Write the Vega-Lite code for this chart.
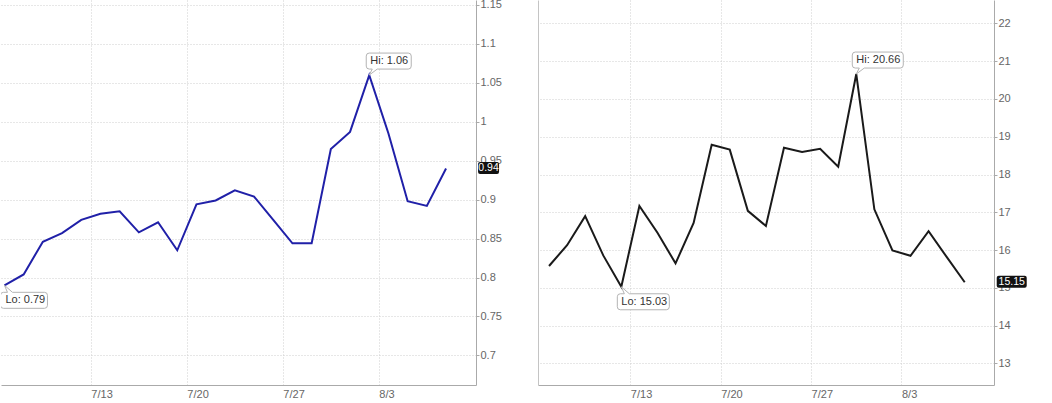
{
  "$schema": "https://vega.github.io/schema/vega-lite/v6.json",
  "description": "Two daily price panels with Hi/Lo callouts and last-value tags",
  "padding": {"left": 0, "top": -2, "right": 0, "bottom": 0},
  "background": "white",
  "spacing": 62,
  "bounds": "flush",
  "datasets": {
    "left": [
      {"day": 1, "date": "07-06", "value": 0.79},
      {"day": 2, "date": "07-07", "value": 0.804},
      {"day": 3, "date": "07-08", "value": 0.846},
      {"day": 4, "date": "07-09", "value": 0.857},
      {"day": 5, "date": "07-10", "value": 0.874},
      {"day": 6, "date": "07-13", "value": 0.882},
      {"day": 7, "date": "07-14", "value": 0.885},
      {"day": 8, "date": "07-15", "value": 0.858},
      {"day": 9, "date": "07-16", "value": 0.871},
      {"day": 10, "date": "07-17", "value": 0.835},
      {"day": 11, "date": "07-20", "value": 0.894},
      {"day": 12, "date": "07-21", "value": 0.899},
      {"day": 13, "date": "07-22", "value": 0.912},
      {"day": 14, "date": "07-23", "value": 0.904},
      {"day": 15, "date": "07-24", "value": 0.874},
      {"day": 16, "date": "07-27", "value": 0.844},
      {"day": 17, "date": "07-28", "value": 0.844},
      {"day": 18, "date": "07-29", "value": 0.965},
      {"day": 19, "date": "07-30", "value": 0.987},
      {"day": 20, "date": "07-31", "value": 1.06},
      {"day": 21, "date": "08-03", "value": 0.985},
      {"day": 22, "date": "08-04", "value": 0.898},
      {"day": 23, "date": "08-05", "value": 0.892},
      {"day": 24, "date": "08-06", "value": 0.94}
    ],
    "right": [
      {"day": 1, "date": "07-06", "value": 15.58},
      {"day": 2, "date": "07-07", "value": 16.13},
      {"day": 3, "date": "07-08", "value": 16.9},
      {"day": 4, "date": "07-09", "value": 15.86},
      {"day": 5, "date": "07-10", "value": 15.03},
      {"day": 6, "date": "07-13", "value": 17.17},
      {"day": 7, "date": "07-14", "value": 16.46},
      {"day": 8, "date": "07-15", "value": 15.65},
      {"day": 9, "date": "07-16", "value": 16.72},
      {"day": 10, "date": "07-17", "value": 18.79},
      {"day": 11, "date": "07-20", "value": 18.66},
      {"day": 12, "date": "07-21", "value": 17.04},
      {"day": 13, "date": "07-22", "value": 16.64},
      {"day": 14, "date": "07-23", "value": 18.71},
      {"day": 15, "date": "07-24", "value": 18.6},
      {"day": 16, "date": "07-27", "value": 18.68},
      {"day": 17, "date": "07-28", "value": 18.21},
      {"day": 18, "date": "07-29", "value": 20.66},
      {"day": 19, "date": "07-30", "value": 17.08},
      {"day": 20, "date": "07-31", "value": 15.99},
      {"day": 21, "date": "08-03", "value": 15.85},
      {"day": 22, "date": "08-04", "value": 16.5},
      {"day": 23, "date": "08-05", "value": 15.82},
      {"day": 24, "date": "08-06", "value": 15.15}
    ]
  },
  "hconcat": [
    {
      "width": 475,
      "height": 385,
      "data": {"name": "left"},
      "layer": [
        {
          "mark": {"type": "line", "color": "#2020a8", "strokeWidth": 2},
          "encoding": {
            "x": {
              "field": "day", "type": "quantitative",
              "scale": {"domain": [0.82, 25.56], "nice": false, "zero": false},
              "axis": {
                "title": null, "values": [5.5, 10.5, 15.5, 20.5],
                "labelExpr": "datum.value == 5.5 ? '7/13' : datum.value == 10.5 ? '7/20' : datum.value == 15.5 ? '7/27' : '8/3'",
                "labelAlign": "left", "ticks": false, "labelPadding": 3, "grid": true
              }
            },
            "y": {
              "field": "value", "type": "quantitative",
              "scale": {"domain": [0.662, 1.1564], "nice": false, "zero": false},
              "axis": {
                "title": null, "orient": "right", "format": "~g",
                "values": [0.7, 0.75, 0.8, 0.85, 0.9, 0.95, 1, 1.05, 1.1, 1.15],
                "tickSize": 3, "labelPadding": 1, "grid": true
              }
            }
          }
        },
        {
          "encoding": {
            "x": {"field": "day", "type": "quantitative"},
            "y": {"field": "value", "type": "quantitative"}
          },
          "layer": [
            {
              "transform": [
                {"joinaggregate": [{"op": "max", "field": "value", "as": "vmax"}]},
                {"filter": "datum.value == datum.vmax"},
                {"calculate": "'Hi: ' + format(datum.value, '.2f')", "as": "label"}
              ],
              "layer": [
                {"mark": {"type": "point", "filled": true, "fill": "white", "stroke": "#b4b4b4", "strokeWidth": 1, "opacity": 1, "size": 4,
                  "shape": "M -3 -19 Q -3 -22 0 -22 L 39 -22 Q 42 -22 42 -19 L 42 -9 Q 42 -6 39 -6 L 8 -6 L 0 0 L 3 -6 L 0 -6 Q -3 -6 -3 -9 Z"}},
                {"mark": {"type": "text", "align": "left", "baseline": "middle", "dx": 1, "dy": -14, "fontSize": 11, "color": "#333"},
                  "encoding": {"text": {"field": "label"}}}
              ]
            },
            {
              "transform": [
                {"joinaggregate": [{"op": "min", "field": "value", "as": "vmin"}]},
                {"filter": "datum.value == datum.vmin"},
                {"calculate": "'Lo: ' + format(datum.value, '.2f')", "as": "label"}
              ],
              "layer": [
                {"mark": {"type": "point", "filled": true, "fill": "white", "stroke": "#b4b4b4", "strokeWidth": 1, "opacity": 1, "size": 4, "clip": true,
                  "shape": "M -4 10 Q -4 7 -1 7 L 3 7 L 0 0 L 8 7 L 40 7 Q 43 7 43 10 L 43 20 Q 43 23 40 23 L -1 23 Q -4 23 -4 20 Z"}},
                {"mark": {"type": "text", "align": "left", "baseline": "middle", "dx": 1, "dy": 15, "fontSize": 11, "color": "#333"},
                  "encoding": {"text": {"field": "label"}}}
              ]
            },
            {
              "transform": [
                {"joinaggregate": [{"op": "max", "field": "day", "as": "dmax"}]},
                {"filter": "datum.day == datum.dmax"},
                {"calculate": "format(datum.value, '.2f')", "as": "label"}
              ],
              "layer": [
                {"mark": {"type": "point", "filled": true, "fill": "#111", "opacity": 1, "size": 4,
                  "shape": "M 32 -4.5 Q 32 -6.5 34 -6.5 L 51 -6.5 Q 53 -6.5 53 -4.5 L 53 3.5 Q 53 5.5 51 5.5 L 34 5.5 Q 32 5.5 32 3.5 Z"}},
                {"mark": {"type": "text", "align": "center", "baseline": "middle", "dx": 42.5, "dy": -0.5, "fontSize": 10.5, "color": "white"},
                  "encoding": {"text": {"field": "label"}}}
              ]
            }
          ]
        }
      ]
    },
    {
      "width": 456,
      "height": 385,
      "data": {"name": "right"},
      "layer": [
        {
          "mark": {"type": "line", "color": "#1a1a1a", "strokeWidth": 2},
          "encoding": {
            "x": {
              "field": "day", "type": "quantitative",
              "scale": {"domain": [0.39, 25.62], "nice": false, "zero": false},
              "axis": {
                "title": null, "values": [5.5, 10.5, 15.5, 20.5],
                "labelExpr": "datum.value == 5.5 ? '7/13' : datum.value == 10.5 ? '7/20' : datum.value == 15.5 ? '7/27' : '8/3'",
                "labelAlign": "left", "ticks": false, "labelPadding": 3, "grid": true
              }
            },
            "y": {
              "field": "value", "type": "quantitative",
              "scale": {"domain": [12.43, 22.62], "nice": false, "zero": false},
              "axis": {
                "title": null, "orient": "right", "format": "~g",
                "values": [13, 14, 15, 16, 17, 18, 19, 20, 21, 22],
                "tickSize": 3, "labelPadding": 1, "grid": true
              }
            }
          }
        },
        {
          "encoding": {
            "x": {"field": "day", "type": "quantitative"},
            "y": {"field": "value", "type": "quantitative",
              "axis": {"orient": "left", "title": null, "labels": false, "ticks": false, "grid": false, "domainColor": "#c4c4c4"}}
          },
          "layer": [
            {
              "transform": [
                {"joinaggregate": [{"op": "max", "field": "value", "as": "vmax"}]},
                {"filter": "datum.value == datum.vmax"},
                {"calculate": "'Hi: ' + format(datum.value, '.2f')", "as": "label"}
              ],
              "layer": [
                {"mark": {"type": "point", "filled": true, "fill": "white", "stroke": "#b4b4b4", "strokeWidth": 1, "opacity": 1, "size": 4,
                  "shape": "M -4 -19 Q -4 -22 -1 -22 L 44 -22 Q 47 -22 47 -19 L 47 -9 Q 47 -6 44 -6 L 8 -6 L 0 0 L 3 -6 L -1 -6 Q -4 -6 -4 -9 Z"}},
                {"mark": {"type": "text", "align": "left", "baseline": "middle", "dx": 0, "dy": -14, "fontSize": 11, "color": "#333"},
                  "encoding": {"text": {"field": "label"}}}
              ]
            },
            {
              "transform": [
                {"joinaggregate": [{"op": "min", "field": "value", "as": "vmin"}]},
                {"filter": "datum.value == datum.vmin"},
                {"calculate": "'Lo: ' + format(datum.value, '.2f')", "as": "label"}
              ],
              "layer": [
                {"mark": {"type": "point", "filled": true, "fill": "white", "stroke": "#b4b4b4", "strokeWidth": 1, "opacity": 1, "size": 4,
                  "shape": "M -4 10 Q -4 7 -1 7 L 3 7 L 0 0 L 8 7 L 45 7 Q 48 7 48 10 L 48 20 Q 48 23 45 23 L -1 23 Q -4 23 -4 20 Z"}},
                {"mark": {"type": "text", "align": "left", "baseline": "middle", "dx": 0, "dy": 15, "fontSize": 11, "color": "#333"},
                  "encoding": {"text": {"field": "label"}}}
              ]
            },
            {
              "transform": [
                {"joinaggregate": [{"op": "max", "field": "day", "as": "dmax"}]},
                {"filter": "datum.day == datum.dmax"},
                {"calculate": "format(datum.value, '.2f')", "as": "label"}
              ],
              "layer": [
                {"mark": {"type": "point", "filled": true, "fill": "#111", "opacity": 1, "size": 4,
                  "shape": "M 32 -4.5 Q 32 -6.5 34 -6.5 L 60 -6.5 Q 62 -6.5 62 -4.5 L 62 3.5 Q 62 5.5 60 5.5 L 34 5.5 Q 32 5.5 32 3.5 Z"}},
                {"mark": {"type": "text", "align": "center", "baseline": "middle", "dx": 47, "dy": -0.5, "fontSize": 10.5, "color": "white"},
                  "encoding": {"text": {"field": "label"}}}
              ]
            }
          ]
        }
      ]
    }
  ],
  "config": {
    "view": {"stroke": null},
    "font": "Liberation Sans",
    "text": {"font": "Liberation Sans"},
    "axis": {
      "labelFont": "Liberation Sans",
      "labelFontSize": 11,
      "labelColor": "#666",
      "domainColor": "#aaa",
      "tickColor": "#aaa",
      "gridColor": "#cfcfcf",
      "gridDash": [1, 2],
      "gridWidth": 1
    }
  }
}
